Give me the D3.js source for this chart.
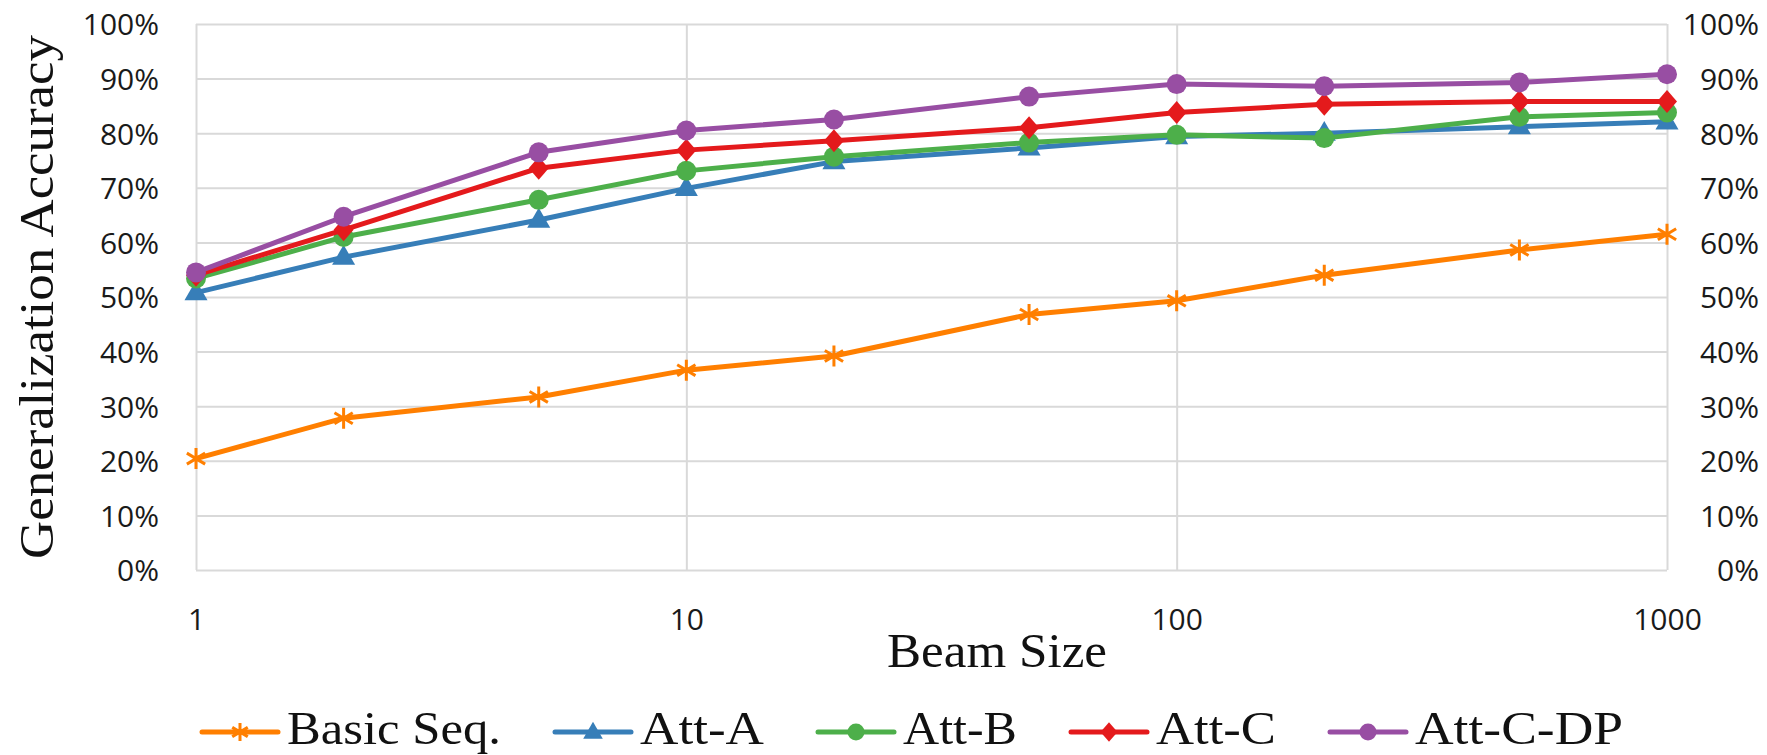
<!DOCTYPE html>
<html>
<head>
<meta charset="utf-8">
<script src="https://cdn.jsdelivr.net/npm/d3@7"></script>
<style>
html,body{margin:0;padding:0;background:#fff;}
svg{display:block;}
</style>
</head>
<body>
<svg id="chart" width="1767" height="755"></svg>
<script>
// ---- data ----
const beamSizes = [1, 2, 5, 10, 20, 50, 100, 200, 500, 1000];
const seriesNames = ["Basic Seq.", "Att-A", "Att-B", "Att-C", "Att-C-DP"];
const basicSeq = [20.4, 27.8, 31.7, 36.6, 39.2, 46.8, 49.3, 54.0, 58.6, 61.5];
const attA     = [50.8, 57.3, 64.1, 69.9, 74.8, 77.3, 79.4, 80.0, 81.2, 82.1];
const attB     = [53.4, 61.0, 67.8, 73.1, 75.7, 78.3, 79.7, 79.1, 83.0, 83.8];
const attC     = [54.0, 62.3, 73.6, 76.9, 78.6, 81.0, 83.8, 85.3, 85.8, 85.8];
const attCDP   = [54.5, 64.7, 76.5, 80.5, 82.5, 86.7, 89.0, 88.6, 89.3, 90.8];
const yTickValues = [0, 10, 20, 30, 40, 50, 60, 70, 80, 90, 100];
const xTickValues = [1, 10, 100, 1000];
const yTitle = "Generalization Accuracy";
const xTitle = "Beam Size";

// ---- styles ----
const colors = ["#ff7f00", "#377eb8", "#4daf4a", "#e41a1c", "#984ea3"];
const markers = ["star", "triangle", "circle", "diamond", "circle"];
const seriesValues = [basicSeq, attA, attB, attC, attCDP];

const svg = d3.select("#chart");
const pL = 196, pR = 1667, pT = 24, pB = 570;
const x = d3.scaleLog().domain([1, 1000]).range([pL, pR]);
const y = d3.scaleLinear().domain([0, 100]).range([pB, pT]);

const gridColor = "#d9d9d9";
const tickFont = "'Open Sans', 'Liberation Sans', sans-serif";
const serifFont = "'Liberation Serif', 'DejaVu Serif', serif";

// horizontal gridlines
const gy = svg.append("g").attr("transform", `translate(${pL},0)`)
  .call(d3.axisLeft(y).tickValues(yTickValues).tickSize(-(pR - pL)).tickFormat(""));
gy.select(".domain").remove();
gy.selectAll("line").attr("stroke", gridColor).attr("stroke-width", 2);

// vertical gridlines
const gx = svg.append("g").attr("transform", `translate(0,${pB})`)
  .call(d3.axisBottom(x).tickValues(xTickValues).tickSize(-(pB - pT)).tickFormat(""));
gx.select(".domain").remove();
gx.selectAll("line").attr("stroke", gridColor).attr("stroke-width", 2);

// left axis labels
const ly = svg.append("g").attr("transform", `translate(${pL},0)`)
  .call(d3.axisLeft(y).tickValues(yTickValues).tickSize(0).tickPadding(37).tickFormat(d => d + "%"));
ly.select(".domain").remove();
ly.selectAll("text").attr("font-family", tickFont).attr("font-size", 30).attr("fill", "#1a1a1a").attr("dy", "0.36em");

// right axis labels (right aligned)
const ry = svg.append("g").attr("transform", `translate(${pR},0)`)
  .call(d3.axisRight(y).tickValues(yTickValues).tickSize(0).tickPadding(92).tickFormat(d => d + "%"));
ry.select(".domain").remove();
ry.selectAll("text").attr("font-family", tickFont).attr("font-size", 30).attr("fill", "#1a1a1a")
  .attr("text-anchor", "end").attr("dy", "0.36em");

// x axis labels
const bx = svg.append("g").attr("transform", `translate(0,${pB})`)
  .call(d3.axisBottom(x).tickValues(xTickValues).tickSize(0).tickFormat(d3.format("d")));
bx.select(".domain").remove();
bx.selectAll("text").attr("font-family", tickFont).attr("font-size", 30).attr("fill", "#1a1a1a")
  .attr("y", 49).attr("dy", "0.36em");

// titles
svg.append("text")
  .attr("transform", `translate(53,${(pT + pB) / 2}) rotate(-90)`)
  .attr("text-anchor", "middle")
  .attr("font-family", serifFont).attr("font-size", 49).attr("fill", "#111")
  .attr("textLength", 524).attr("lengthAdjust", "spacingAndGlyphs")
  .text(yTitle);
svg.append("text")
  .attr("x", 997).attr("y", 667)
  .attr("text-anchor", "middle")
  .attr("font-family", serifFont).attr("font-size", 49).attr("fill", "#111")
  .attr("textLength", 220).attr("lengthAdjust", "spacingAndGlyphs")
  .text(xTitle);

// marker drawing
function drawMarker(g, type, cx, cy, color, scale) {
  const s = scale || 1;
  if (type === "circle") {
    g.append("circle").attr("cx", cx).attr("cy", cy).attr("r", 10 * s).attr("fill", color);
  } else if (type === "triangle") {
    const sym = d3.symbol().type(d3.symbolTriangle).size(230 * s * s);
    g.append("path").attr("d", sym()).attr("transform", `translate(${cx},${cy + 1})`).attr("fill", color);
  } else if (type === "diamond") {
    const w = 10 * s, h = 11.5 * s;
    g.append("path").attr("d", `M${cx},${cy - h}L${cx + w},${cy}L${cx},${cy + h}L${cx - w},${cy}Z`).attr("fill", color);
  } else if (type === "star") {
    const r = 10.5 * s, d = r * 0.87;
    const p = `M${cx},${cy - r}L${cx},${cy + r}M${cx - d},${cy - d * 0.6}L${cx + d},${cy + d * 0.6}M${cx - d},${cy + d * 0.6}L${cx + d},${cy - d * 0.6}`;
    g.append("path").attr("d", p).attr("stroke", color).attr("stroke-width", 3).attr("fill", "none");
  }
}

// series
const line = d3.line().x(d => x(d[0])).y(d => y(d[1]));
seriesValues.forEach((vals, i) => {
  const pts = beamSizes.map((b, j) => [b, vals[j]]);
  const g = svg.append("g");
  g.append("path").datum(pts).attr("d", line)
    .attr("fill", "none").attr("stroke", colors[i]).attr("stroke-width", 5)
    .attr("stroke-linejoin", "round").attr("stroke-linecap", "round");
  pts.forEach(p => drawMarker(g, markers[i], x(p[0]), y(p[1]), colors[i], 1));
});

// legend
const legendTextWidths = [214, 124, 114, 120, 208];
const legendY = 732, lineLen = 76, textGap = 9, itemGap = 54;
let lx = 202;
seriesNames.forEach((name, i) => {
  const g = svg.append("g");
  g.append("line").attr("x1", lx).attr("x2", lx + lineLen).attr("y1", legendY).attr("y2", legendY)
    .attr("stroke", colors[i]).attr("stroke-width", 5).attr("stroke-linecap", "round");
  drawMarker(g, markers[i], lx + lineLen / 2, legendY, colors[i], 0.85);
  g.append("text").attr("x", lx + lineLen + textGap).attr("y", 744)
    .attr("font-family", serifFont).attr("font-size", 47).attr("fill", "#111")
    .attr("textLength", legendTextWidths[i]).attr("lengthAdjust", "spacingAndGlyphs")
    .text(name);
  lx += lineLen + textGap + legendTextWidths[i] + itemGap;
});
</script>
</body>
</html>
